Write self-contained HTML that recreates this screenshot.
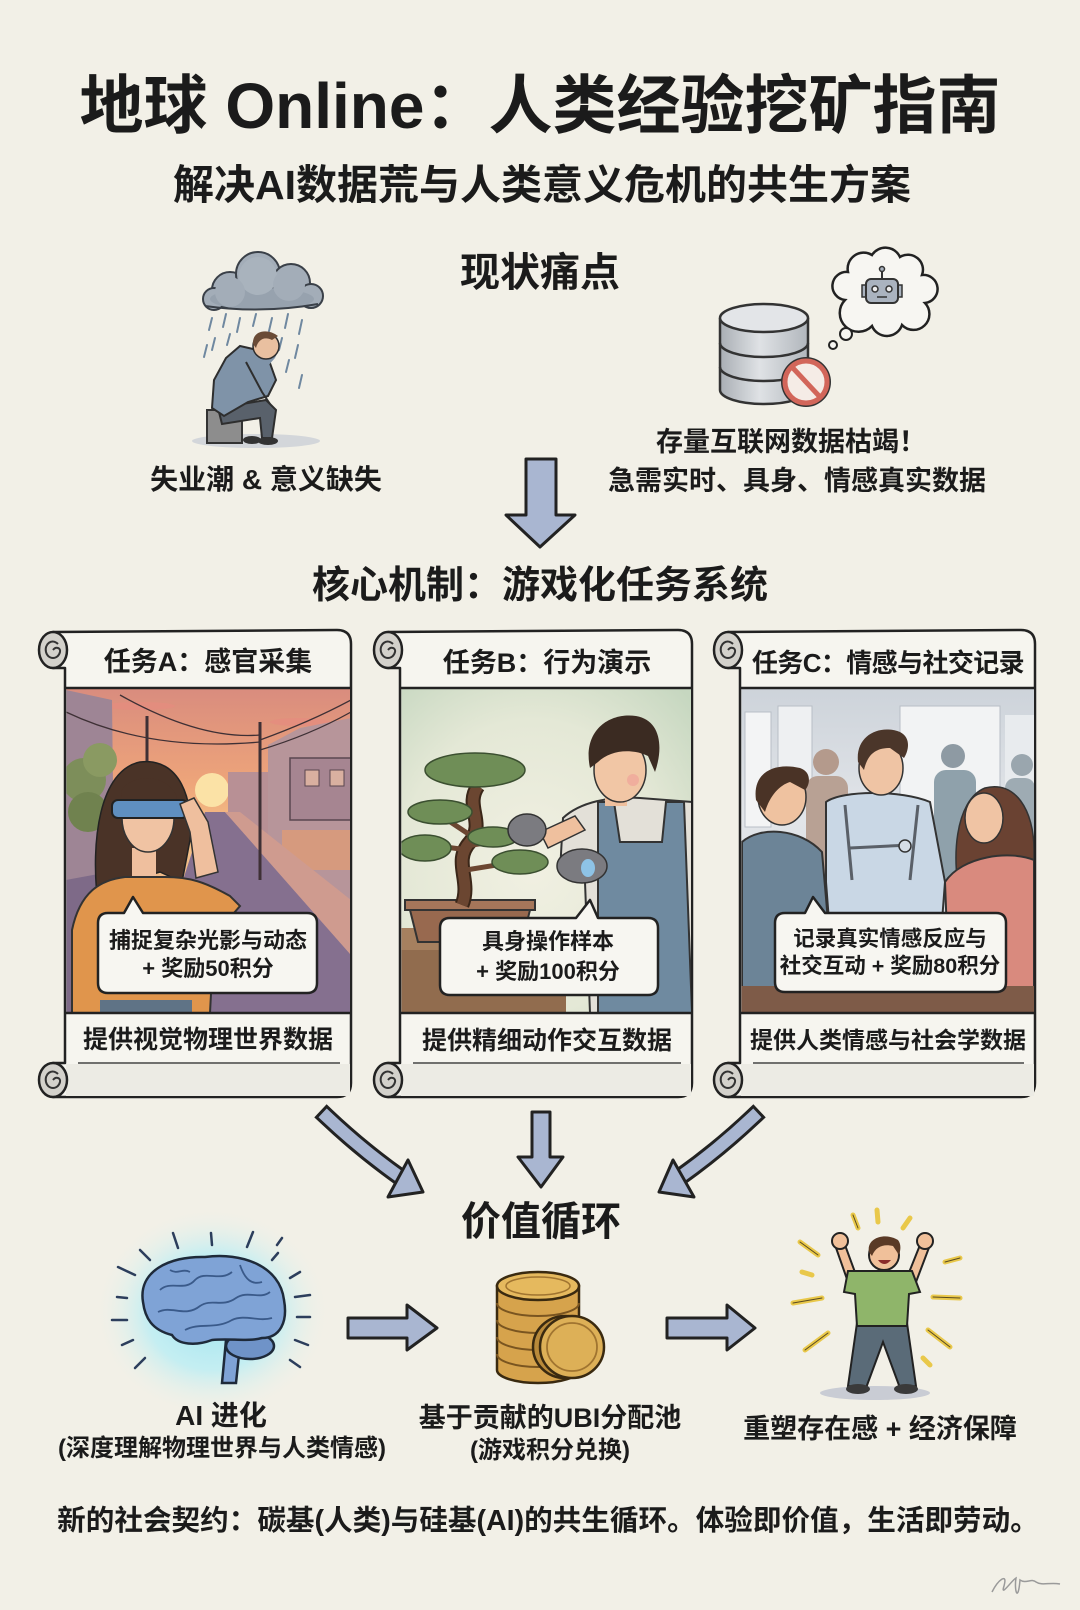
<!DOCTYPE html>
<html><head><meta charset="utf-8">
<style>
html,body{margin:0;padding:0;}
body{width:1080px;height:1610px;overflow:hidden;background:#f2f0e7;position:relative;}
.t{position:absolute;white-space:nowrap;font-weight:700;color:#1b1b1b;line-height:1;transform:translateX(-50%);font-family:"Liberation Sans","Noto Sans CJK SC",sans-serif;}
svg{position:absolute;left:0;top:0;}
</style></head><body>
<svg width="1080" height="1610" viewBox="0 0 1080 1610" xmlns="http://www.w3.org/2000/svg">
<defs>
<linearGradient id="skyA" x1="0" y1="0" x2="0" y2="1">
<stop offset="0" stop-color="#d98c7e"/><stop offset="0.3" stop-color="#eea57a"/><stop offset="0.45" stop-color="#f5c387"/><stop offset="1" stop-color="#e3a08c"/></linearGradient>
<radialGradient id="bgB" cx="0.45" cy="0.55" r="0.75"><stop offset="0" stop-color="#f1f0e2"/><stop offset="0.6" stop-color="#e4e8d6"/><stop offset="1" stop-color="#c6d7c0"/></radialGradient>
<linearGradient id="bgC" x1="0" y1="0" x2="0" y2="1"><stop offset="0" stop-color="#cdd3da"/><stop offset="0.4" stop-color="#e2e5e9"/><stop offset="1" stop-color="#d5d9de"/></linearGradient>
<radialGradient id="glow" cx="0.5" cy="0.5" r="0.5"><stop offset="0" stop-color="#9fe3f0"/><stop offset="0.55" stop-color="#bfeef3" stop-opacity="0.9"/><stop offset="1" stop-color="#f2f0e7" stop-opacity="0"/></radialGradient>
<linearGradient id="db" x1="0" y1="0" x2="1" y2="0"><stop offset="0" stop-color="#a9aeb4"/><stop offset="0.45" stop-color="#dfe2e5"/><stop offset="1" stop-color="#b1b6bc"/></linearGradient>
<clipPath id="cA"><rect x="66.5" y="688.5" width="283.5" height="324"/></clipPath>
<clipPath id="cB"><rect x="401.5" y="688.5" width="289.5" height="324"/></clipPath>
<clipPath id="cC"><rect x="741.5" y="688.5" width="292.5" height="324"/></clipPath>
</defs>

<!-- ===== Sad man with cloud ===== -->
<ellipse cx="256" cy="441" rx="64" ry="7" fill="#d3d6da"/>
<g stroke="#6f88a0" stroke-width="2" stroke-linecap="round">
<line x1="212" y1="318" x2="209" y2="330"/><line x1="226" y1="314" x2="223" y2="327"/><line x1="240" y1="318" x2="237" y2="332"/>
<line x1="256" y1="314" x2="253" y2="326"/><line x1="272" y1="318" x2="269" y2="331"/><line x1="288" y1="314" x2="285" y2="328"/>
<line x1="302" y1="320" x2="299" y2="334"/><line x1="207" y1="345" x2="204" y2="357"/><line x1="298" y1="345" x2="295" y2="358"/>
<line x1="215" y1="338" x2="212" y2="350"/><line x1="289" y1="360" x2="286" y2="372"/><line x1="302" y1="375" x2="299" y2="388"/>
<line x1="230" y1="334" x2="227" y2="345"/><line x1="282" y1="338" x2="279" y2="350"/>
</g>
<g fill="#a3adb8" stroke="#3a4048" stroke-width="2">
<circle cx="230" cy="290" r="18"/><circle cx="258" cy="274" r="22"/><circle cx="291" cy="283" r="19"/><circle cx="311" cy="296" r="12"/><circle cx="214" cy="299" r="11"/>
</g>
<ellipse cx="262" cy="299" rx="52" ry="11" fill="#97a2ae"/>
<circle cx="258" cy="276" r="19" fill="#a9b3bd"/><circle cx="230" cy="292" r="15" fill="#a3adb8"/><circle cx="289" cy="285" r="16" fill="#a3adb8"/>
<path d="M205,306 Q262,314 318,304" stroke="#3a4048" stroke-width="2" fill="none"/>
<rect x="207" y="410" width="35" height="33" fill="#8d8d8d" stroke="#333" stroke-width="2"/>
<path d="M218,408 L266,400 L276,410 L272,438 L262,438 L260,418 L222,424 Z" fill="#59616b" stroke="#2e2e2e" stroke-width="2"/>
<ellipse cx="268" cy="441" rx="10" ry="4" fill="#333"/><ellipse cx="252" cy="440" rx="9" ry="4" fill="#333"/>
<path d="M240,346 L266,352 L276,380 L268,396 L248,402 L224,416 L212,408 L214,380 L226,358 Z" fill="#7f93a8" stroke="#2e2e2e" stroke-width="2"/>
<path d="M246,362 L262,392 L270,404" stroke="#2e2e2e" stroke-width="2" fill="none"/>
<path d="M258,372 L272,356 L276,348" stroke="#7f93a8" stroke-width="7" fill="none"/>
<circle cx="266" cy="346" r="13" fill="#e9c0a0" stroke="#2e2e2e" stroke-width="1.5"/>
<path d="M253,344 C252,330 268,328 278,336 L272,340 C264,336 258,340 256,348 Z" fill="#6a4b36"/>

<!-- ===== Database & robot ===== -->
<rect x="720" y="318" width="88" height="72" fill="url(#db)"/>
<path d="M720,318 L720,390 A44 14 0 0 0 808,390 L808,318" fill="url(#db)" stroke="#333" stroke-width="2.5"/>
<path d="M720,343 A44 14 0 0 0 808,343" fill="none" stroke="#333" stroke-width="2.5"/>
<path d="M720,367 A44 14 0 0 0 808,367" fill="none" stroke="#333" stroke-width="2.5"/>
<ellipse cx="764" cy="318" rx="44" ry="14" fill="#e3e5e8" stroke="#333" stroke-width="2.5"/>
<circle cx="806" cy="382" r="25" fill="#333"/>
<circle cx="806" cy="382" r="21" fill="#f5ece6" stroke="#d2665a" stroke-width="5"/>
<line x1="792" y1="367" x2="820" y2="397" stroke="#d2665a" stroke-width="5"/>
<path d="M845,300 A14 14 0 0 1 848,272 A16 16 0 0 1 872,255 A16 16 0 0 1 900,257 A15 15 0 0 1 922,275 A14 14 0 0 1 925,303 A15 15 0 0 1 902,325 A16 16 0 0 1 872,326 A15 15 0 0 1 845,300 Z" fill="#f7f6f2" stroke="#222" stroke-width="2.5"/>
<circle cx="846" cy="334" r="6" fill="#f7f6f2" stroke="#222" stroke-width="2"/>
<circle cx="833" cy="345" r="4" fill="#f7f6f2" stroke="#222" stroke-width="2"/>
<rect x="862" y="285" width="5" height="12" fill="#aab3bf" stroke="#333" stroke-width="1.5"/>
<rect x="897" y="285" width="5" height="12" fill="#aab3bf" stroke="#333" stroke-width="1.5"/>
<line x1="882" y1="279" x2="882" y2="271" stroke="#333" stroke-width="2"/><circle cx="882" cy="269" r="2.5" fill="#aab3bf" stroke="#333" stroke-width="1.5"/>
<rect x="866" y="279" width="32" height="24" rx="5" fill="#aab3bf" stroke="#333" stroke-width="2"/>
<circle cx="875" cy="289" r="3" fill="#eee" stroke="#333" stroke-width="1.5"/><circle cx="889" cy="289" r="3" fill="#eee" stroke="#333" stroke-width="1.5"/>
<line x1="877" y1="297" x2="887" y2="297" stroke="#333" stroke-width="1.5"/>

<polygon points="526,459 556,459 556,515 575,515 540,547 506,515 526,515" fill="#a9b6d1" stroke="#222" stroke-width="3" stroke-linejoin="round"/>

<!-- ===== Scrolls ===== -->
<g stroke="#222" stroke-width="2.5" stroke-linejoin="round">
<path d="M53,632 L337,630 Q351,630 351,644 L351,1083 Q351,1097 337,1097 L53,1097 L53,1063 L65,1063 L65,668 L53,668 Z" fill="#f6f5ef"/>
<path d="M388,632 L678,630 Q692,630 692,644 L692,1083 Q692,1097 678,1097 L388,1097 L388,1063 L400,1063 L400,668 L388,668 Z" fill="#f6f5ef"/>
<path d="M728,632 L1021,630 Q1035,630 1035,644 L1035,1083 Q1035,1097 1021,1097 L728,1097 L728,1063 L740,1063 L740,668 L728,668 Z" fill="#f6f5ef"/>
</g>
<g fill="#ecebe4">
<rect x="66" y="1064" width="284" height="32"/><rect x="401" y="1064" width="290" height="32"/><rect x="741" y="1064" width="293" height="32"/>
</g>
<g stroke="#444" stroke-width="1.6">
<line x1="78" y1="1063" x2="340" y2="1063"/><line x1="413" y1="1063" x2="681" y2="1063"/><line x1="753" y1="1063" x2="1024" y2="1063"/>
</g>
<g fill="#d3d1cb" stroke="#222" stroke-width="2.5">
<ellipse cx="53" cy="650" rx="14" ry="18"/><ellipse cx="388" cy="650" rx="14" ry="18"/><ellipse cx="728" cy="650" rx="14" ry="18"/>
<ellipse cx="53" cy="1080" rx="14" ry="17"/><ellipse cx="388" cy="1080" rx="14" ry="17"/><ellipse cx="728" cy="1080" rx="14" ry="17"/>
</g>
<g fill="none" stroke="#333" stroke-width="2">
<path d="M58,644 C52,638 44,644 46,652 C48,660 58,660 60,652 C61,648 56,646 53,650"/>
<path d="M393,644 C387,638 379,644 381,652 C383,660 393,660 395,652 C396,648 391,646 388,650"/>
<path d="M733,644 C727,638 719,644 721,652 C723,660 733,660 735,652 C736,648 731,646 728,650"/>
<path d="M58,1074 C52,1068 44,1074 46,1082 C48,1090 58,1090 60,1082 C61,1078 56,1076 53,1080"/>
<path d="M393,1074 C387,1068 379,1074 381,1082 C383,1090 393,1090 395,1082 C396,1078 391,1076 388,1080"/>
<path d="M733,1074 C727,1068 719,1074 721,1082 C723,1090 733,1090 735,1082 C736,1078 731,1076 728,1080"/>
</g>

<!-- Scene A -->
<g clip-path="url(#cA)">
<rect x="66" y="688" width="285" height="325" fill="url(#skyA)"/>
<ellipse cx="140" cy="706" rx="35" ry="4" fill="#e58b7f" opacity=".7"/><ellipse cx="300" cy="722" rx="30" ry="4" fill="#e58b7f" opacity=".7"/>
<circle cx="212" cy="790" r="17" fill="#fbe2a6"/>
<rect x="228" y="772" width="42" height="95" fill="#b89095"/>
<polygon points="268,745 300,728 351,718 351,1013 268,1013" fill="#b7959a"/>
<rect x="290" y="758" width="61" height="62" fill="#a68591" stroke="#5a4650" stroke-width="1.5"/>
<rect x="305" y="770" width="14" height="16" fill="#d9b0a0" stroke="#5a4650" stroke-width="1"/>
<rect x="330" y="770" width="14" height="16" fill="#d9b0a0" stroke="#5a4650" stroke-width="1"/>
<rect x="282" y="830" width="69" height="40" fill="#d69a7e"/>
<polygon points="66,690 112,700 114,870 66,885" fill="#9e8595"/>
<circle cx="84" cy="780" r="22" fill="#7d8e5a"/><circle cx="100" cy="760" r="17" fill="#8a9a62"/><circle cx="88" cy="812" r="20" fill="#70824f"/>
<polygon points="205,812 225,812 351,955 351,1013 140,1013" fill="#85708f"/>
<polygon points="225,812 240,812 351,900 351,955" fill="#cf9b8f"/>
<polygon points="66,880 120,870 120,1013 66,1013" fill="#7e6a88"/>
<line x1="147" y1="716" x2="147" y2="840" stroke="#3e3035" stroke-width="3"/>
<line x1="260" y1="722" x2="260" y2="880" stroke="#3e3035" stroke-width="3"/>
<path d="M66,712 Q150,752 260,742 M120,695 Q200,740 260,735 M260,740 Q310,722 351,700 M260,750 Q310,735 351,712" stroke="#3e3035" stroke-width="1.3" fill="none"/>
<path d="M98,905 C90,840 100,770 140,762 C180,757 194,800 190,840 L182,882 L160,872 L120,884 Z" fill="#4a3327" stroke="#222" stroke-width="1.5"/>
<rect x="132" y="848" width="24" height="32" fill="#efbf9e"/>
<ellipse cx="148" cy="818" rx="26" ry="34" fill="#f0c3a3" stroke="#333" stroke-width="1.5"/>
<path d="M122,790 C130,775 165,772 176,795 L178,805 L120,805 Z" fill="#4a3327"/>
<rect x="112" y="800" width="76" height="18" rx="6" fill="#5f8fc0" stroke="#222" stroke-width="2"/>
<path d="M196,878 L218,872 L208,822 L194,798 L180,804 L190,832 Z" fill="#efbf9e" stroke="#333" stroke-width="1.5"/>
<path d="M72,1013 L72,930 C80,892 100,880 125,877 L165,877 C190,877 205,882 230,896 L240,906 L214,936 L210,1013 Z" fill="#e0954c" stroke="#333" stroke-width="2"/>
<rect x="100" y="1000" width="92" height="14" fill="#5f7386"/>
</g>

<!-- Scene B -->
<g clip-path="url(#cB)">
<rect x="401" y="688" width="291" height="325" fill="url(#bgB)"/>
<rect x="401" y="928" width="165" height="85" fill="#a6805f"/>
<rect x="401" y="950" width="165" height="63" fill="#916c4e"/>
<path d="M405,900 L535,900 L535,910 L405,910 Z" fill="#a5765a" stroke="#333" stroke-width="2"/>
<path d="M410,910 L530,910 L522,942 L418,942 Z" fill="#98694f" stroke="#333" stroke-width="2"/>
<path d="M462,905 C472,880 452,862 470,842 C486,822 464,806 478,786" stroke="#3a2618" stroke-width="15" fill="none"/>
<path d="M462,905 C472,880 452,862 470,842 C486,822 464,806 478,786" stroke="#6b4631" stroke-width="11" fill="none"/>
<path d="M468,850 L430,845 M470,835 L440,815 M472,845 L505,840 M466,870 L515,862" stroke="#6b4631" stroke-width="5" fill="none"/>
<g fill="#6f8e57" stroke="#3b4f30" stroke-width="1.5">
<ellipse cx="475" cy="770" rx="50" ry="17"/><ellipse cx="440" cy="812" rx="32" ry="12"/><ellipse cx="493" cy="837" rx="25" ry="10"/><ellipse cx="425" cy="848" rx="26" ry="13"/><ellipse cx="520" cy="862" rx="28" ry="12"/>
</g>
<path d="M563,818 C580,802 610,796 640,798 L692,802 L692,1013 L590,1013 L585,882 L560,872 Z" fill="#e3e0d8" stroke="#333" stroke-width="2"/>
<path d="M598,802 L614,802 L620,842 L662,842 L666,802 L684,802 L692,1013 L598,1013 Z" fill="#6f8aa0" stroke="#333" stroke-width="2"/>
<path d="M540,832 L575,816 L585,830 L548,848 Z" fill="#efc09e" stroke="#333" stroke-width="1.5"/>
<rect x="605" y="788" width="22" height="18" fill="#efc09e"/>
<ellipse cx="620" cy="770" rx="26" ry="32" fill="#f1c6a5" stroke="#333" stroke-width="1.5"/>
<circle cx="633" cy="780" r="6" fill="#f0a49a" opacity=".7"/>
<path d="M590,768 C582,730 610,712 636,716 C660,720 664,746 655,772 L648,756 C632,748 610,750 598,762 Z" fill="#3b2b22"/>
<ellipse cx="527" cy="830" rx="19" ry="16" fill="#7b7b80" stroke="#333" stroke-width="1.5"/>
<ellipse cx="582" cy="866" rx="25" ry="17" fill="#7b7b80" stroke="#333" stroke-width="1.5"/>
<ellipse cx="588" cy="868" rx="7" ry="9" fill="#8ec3e6"/>
</g>

<!-- Scene C -->
<g clip-path="url(#cC)">
<rect x="741" y="688" width="294" height="325" fill="url(#bgC)"/>
<rect x="745" y="712" width="26" height="115" fill="#f3f4f5" stroke="#b8bec6" stroke-width="1"/>
<rect x="778" y="706" width="34" height="100" fill="#eef0f2" stroke="#b8bec6" stroke-width="1"/>
<rect x="900" y="706" width="100" height="110" fill="#f2f3f4" stroke="#b8bec6" stroke-width="1"/>
<rect x="1005" y="715" width="30" height="100" fill="#e8ebee"/>
<circle cx="826" cy="762" r="13" fill="#b49a8c"/><rect x="806" y="776" width="42" height="110" rx="12" fill="#b8a194"/>
<circle cx="953" cy="756" r="12" fill="#8e9aa3"/><rect x="934" y="770" width="42" height="130" rx="12" fill="#8fa1ab"/>
<circle cx="1022" cy="765" r="11" fill="#9aa6ae"/><rect x="1005" y="778" width="30" height="100" rx="10" fill="#9eabb3"/>
<path d="M742,842 C760,826 800,828 822,852 L836,1013 L742,1013 Z" fill="#6c8497" stroke="#333" stroke-width="2"/>
<ellipse cx="782" cy="797" rx="24" ry="28" fill="#efc2a0" stroke="#333" stroke-width="1.5"/>
<path d="M756,800 C752,772 775,762 800,768 C812,772 810,785 805,790 L790,782 C780,785 770,795 765,812 Z" fill="#4a3326"/>
<path d="M826,802 C842,790 902,790 930,802 L945,882 L935,1013 L836,1013 L826,882 Z" fill="#c9d7e5" stroke="#333" stroke-width="2"/>
<path d="M845,805 L852,880 M918,805 L910,880 M850,848 L910,845" stroke="#5a6068" stroke-width="3" fill="none"/>
<circle cx="905" cy="846" r="6" fill="#d5dde6" stroke="#333" stroke-width="1.5"/>
<ellipse cx="881" cy="768" rx="22" ry="27" fill="#efc4a4" stroke="#333" stroke-width="1.5"/>
<path d="M858,762 C855,735 880,724 900,732 C912,738 908,752 904,758 L890,748 C878,748 868,752 864,770 Z" fill="#4b362a"/>
<path d="M962,905 C950,860 955,800 985,788 C1015,780 1034,810 1034,850 L1034,905 Z" fill="#6a4232" stroke="#333" stroke-width="1.5"/>
<ellipse cx="984" cy="818" rx="19" ry="25" fill="#f0c4a4" stroke="#333" stroke-width="1.5"/>
<path d="M945,882 C962,856 1010,850 1034,860 L1034,1013 L950,1013 Z" fill="#d98a7e" stroke="#333" stroke-width="2"/>
<rect x="741" y="986" width="294" height="27" fill="#7e5b48"/>
</g>

<g stroke="#222" stroke-width="2.5">
<line x1="65" y1="688" x2="351" y2="688"/><line x1="65" y1="1013" x2="351" y2="1013"/>
<line x1="400" y1="688" x2="692" y2="688"/><line x1="400" y1="1013" x2="692" y2="1013"/>
<line x1="740" y1="688" x2="1035" y2="688"/><line x1="740" y1="1013" x2="1035" y2="1013"/>
</g>

<g fill="#f7f6f1" stroke="#222" stroke-width="2.5" stroke-linejoin="round">
<path d="M108,913 L124,913 L133,897 L143,913 L307,913 Q317,913 317,923 L317,983 Q317,993 307,993 L108,993 Q98,993 98,983 L98,923 Q98,913 108,913 Z"/>
<path d="M450,918 L576,918 L590,900 L598,918 L648,918 Q658,918 658,928 L658,985 Q658,995 648,995 L450,995 Q440,995 440,985 L440,928 Q440,918 450,918 Z"/>
<path d="M785,913 L805,913 L813,897 L825,913 L996,913 Q1006,913 1006,923 L1006,982 Q1006,992 996,992 L785,992 Q775,992 775,982 L775,923 Q775,913 785,913 Z"/>
</g>

<!-- bottom arrows -->
<path d="M327,1117 Q362,1150 400,1177" fill="none" stroke="#222" stroke-width="18" stroke-linecap="square"/>
<path d="M327,1117 Q362,1150 400,1177" fill="none" stroke="#a9b6d1" stroke-width="12" stroke-linecap="square"/>
<polygon points="388,1197 408,1160 423,1192" fill="#a9b6d1" stroke="#222" stroke-width="3" stroke-linejoin="round"/>
<path d="M753,1117 Q718,1150 680,1177" fill="none" stroke="#222" stroke-width="18" stroke-linecap="square"/>
<path d="M753,1117 Q718,1150 680,1177" fill="none" stroke="#a9b6d1" stroke-width="12" stroke-linecap="square"/>
<polygon points="694,1197 673,1160 659,1192" fill="#a9b6d1" stroke="#222" stroke-width="3" stroke-linejoin="round"/>
<polygon points="532,1112 550,1112 550,1157 563,1157 541,1187 518,1157 532,1157" fill="#a9b6d1" stroke="#222" stroke-width="3" stroke-linejoin="round"/>
<polygon points="348,1318 407,1318 407,1305 437,1328 407,1350 407,1338 348,1338" fill="#a9b6d1" stroke="#222" stroke-width="3" stroke-linejoin="round"/>
<polygon points="667,1318 727,1318 727,1305 755,1328 727,1350 727,1338 667,1338" fill="#a9b6d1" stroke="#222" stroke-width="3" stroke-linejoin="round"/>

<!-- brain -->
<ellipse cx="212" cy="1312" rx="118" ry="105" fill="url(#glow)"/>
<g stroke="#2c3e5c" stroke-width="2.5" stroke-linecap="round">
<line x1="173" y1="1233" x2="178" y2="1248"/><line x1="211" y1="1233" x2="212" y2="1245"/><line x1="253" y1="1232" x2="247" y2="1247"/>
<line x1="282" y1="1238" x2="277" y2="1245"/><line x1="278" y1="1253" x2="272" y2="1260"/><line x1="140" y1="1250" x2="150" y2="1260"/>
<line x1="118" y1="1267" x2="135" y2="1275"/><line x1="117" y1="1297" x2="127" y2="1298"/><line x1="112" y1="1320" x2="127" y2="1320"/>
<line x1="122" y1="1345" x2="133" y2="1340"/><line x1="135" y1="1368" x2="145" y2="1358"/><line x1="290" y1="1278" x2="300" y2="1272"/>
<line x1="295" y1="1297" x2="310" y2="1295"/><line x1="297" y1="1317" x2="310" y2="1317"/><line x1="295" y1="1340" x2="308" y2="1345"/>
<line x1="290" y1="1360" x2="300" y2="1367"/>
</g>
<path d="M226,1340 L222,1383 L236,1383 L240,1345 Z" fill="#7fa3d6" stroke="#1e2a3a" stroke-width="2.5"/>
<ellipse cx="250" cy="1346" rx="24" ry="13" fill="#6f93c8" stroke="#1e2a3a" stroke-width="2.5"/>
<path d="M143,1302 C138,1272 168,1256 205,1257 C242,1252 280,1266 284,1300 C288,1322 280,1338 262,1338 C248,1342 230,1338 212,1340 C196,1346 178,1345 172,1335 C152,1330 145,1318 143,1302 Z" fill="#7fa3d6" stroke="#1e2a3a" stroke-width="2.5"/>
<g stroke="#3a5a8a" stroke-width="1.8" fill="none">
<path d="M160,1290 C170,1280 185,1292 195,1280 C205,1270 220,1282 232,1272"/>
<path d="M158,1312 C172,1305 185,1318 200,1306 C212,1298 222,1308 236,1298 C248,1290 260,1300 270,1292"/>
<path d="M185,1330 C200,1322 215,1330 232,1320 C245,1314 258,1322 272,1318"/>
<path d="M240,1265 C245,1280 252,1285 262,1282"/>
<path d="M170,1270 C178,1275 182,1268 190,1272"/>
</g>

<!-- coins -->
<path d="M497,1286 L497,1370 A41 13 0 0 0 579,1370 L579,1286 Z" fill="#d6a34c" stroke="#3a2a10" stroke-width="2.5"/>
<g fill="none" stroke="#7a5520" stroke-width="2">
<path d="M497,1303 A41 13 0 0 0 579,1303"/><path d="M497,1320 A41 13 0 0 0 579,1320"/><path d="M497,1337 A41 13 0 0 0 579,1337"/><path d="M497,1354 A41 13 0 0 0 579,1354"/>
</g>
<ellipse cx="538" cy="1286" rx="41" ry="14" fill="#e5b95e" stroke="#3a2a10" stroke-width="2.5"/>
<ellipse cx="538" cy="1286" rx="32" ry="9" fill="none" stroke="#a07430" stroke-width="1.5"/>
<ellipse cx="565" cy="1347" rx="32" ry="31" fill="#b98a3a" stroke="#3a2a10" stroke-width="2.5"/>
<ellipse cx="572" cy="1347" rx="32" ry="31" fill="#ddb057" stroke="#3a2a10" stroke-width="2.5"/>
<ellipse cx="572" cy="1347" rx="25" ry="24" fill="none" stroke="#a07430" stroke-width="1.8"/>

<!-- happy man -->
<ellipse cx="875" cy="1393" rx="55" ry="7" fill="#c9ccd4"/>
<g stroke="#e9c84a" stroke-width="5" stroke-linecap="round">
<line x1="853" y1="1215" x2="858" y2="1228"/><line x1="877" y1="1210" x2="878" y2="1222"/><line x1="910" y1="1218" x2="903" y2="1228"/>
<line x1="800" y1="1242" x2="818" y2="1255"/><line x1="802" y1="1272" x2="812" y2="1275"/><line x1="793" y1="1303" x2="822" y2="1298"/>
<line x1="805" y1="1350" x2="828" y2="1333"/><line x1="945" y1="1262" x2="960" y2="1258"/><line x1="933" y1="1297" x2="960" y2="1298"/>
<line x1="928" y1="1330" x2="950" y2="1347"/><line x1="923" y1="1358" x2="930" y2="1365"/>
</g>
<g stroke="#5a4a20" stroke-width="1" stroke-linecap="round">
<line x1="853" y1="1215" x2="858" y2="1228"/><line x1="800" y1="1242" x2="818" y2="1255"/><line x1="793" y1="1303" x2="822" y2="1298"/>
<line x1="805" y1="1350" x2="828" y2="1333"/><line x1="945" y1="1262" x2="960" y2="1258"/><line x1="933" y1="1297" x2="960" y2="1298"/><line x1="928" y1="1330" x2="950" y2="1347"/>
</g>
<path d="M835,1245 L845,1245 L856,1275 L848,1282 Z" fill="#f0c09a" stroke="#222" stroke-width="2"/>
<path d="M930,1245 L920,1245 L908,1275 L916,1282 Z" fill="#f0c09a" stroke="#222" stroke-width="2"/>
<circle cx="840" cy="1241" r="8" fill="#f0c09a" stroke="#222" stroke-width="2"/>
<circle cx="925" cy="1241" r="8" fill="#f0c09a" stroke="#222" stroke-width="2"/>
<path d="M857,1323 L907,1323 L916,1386 L900,1388 L883,1342 L866,1388 L848,1386 Z" fill="#5a6b78" stroke="#222" stroke-width="2"/>
<ellipse cx="906" cy="1389" rx="12" ry="5" fill="#3a3a3a"/><ellipse cx="858" cy="1389" rx="12" ry="5" fill="#3a3a3a"/>
<path d="M848,1271 L912,1271 L920,1292 L909,1294 L907,1326 L857,1326 L855,1294 L844,1292 Z" fill="#8fb56a" stroke="#222" stroke-width="2"/>
<circle cx="884" cy="1255" r="15" fill="#f0c09a" stroke="#222" stroke-width="2"/>
<path d="M869,1252 C866,1238 885,1232 898,1240 C902,1245 900,1252 899,1255 L893,1246 C884,1244 876,1246 872,1256 Z" fill="#5a3a26"/>
<path d="M878,1260 Q884,1268 891,1260 Z" fill="#8a2a2a"/>

<path d="M992,1592 C998,1580 1008,1572 1004,1586 C1000,1598 1012,1580 1016,1578 C1014,1590 1018,1604 1020,1580 C1026,1584 1032,1578 1036,1582 C1042,1586 1050,1582 1060,1584" fill="none" stroke="#9a9a9a" stroke-width="1.5"/>
</svg>

<div class="t" style="left:540px;top:74px;font-size:64px;">地球 Online：人类经验挖矿指南</div>
<div class="t" style="left:542px;top:165px;font-size:41px;">解决AI数据荒与人类意义危机的共生方案</div>
<div class="t" style="left:540px;top:253px;font-size:40px;">现状痛点</div>
<div class="t" style="left:266px;top:466px;font-size:28px;">失业潮 &amp; 意义缺失</div>
<div class="t" style="left:791px;top:429px;font-size:27px;">存量互联网数据枯竭！</div>
<div class="t" style="left:797px;top:468px;font-size:27px;">急需实时、具身、情感真实数据</div>
<div class="t" style="left:540px;top:567px;font-size:38px;">核心机制：游戏化任务系统</div>

<div class="t" style="left:208px;top:649px;font-size:27px;">任务A：感官采集</div>
<div class="t" style="left:547px;top:650px;font-size:27px;">任务B：行为演示</div>
<div class="t" style="left:888px;top:650px;font-size:26px;letter-spacing:-0.6px;">任务C：情感与社交记录</div>

<div class="t" style="left:208px;top:930px;font-size:22px;">捕捉复杂光影与动态</div>
<div class="t" style="left:208px;top:958px;font-size:22px;">+ 奖励50积分</div>
<div class="t" style="left:548px;top:931px;font-size:22px;">具身操作样本</div>
<div class="t" style="left:548px;top:961px;font-size:22px;">+ 奖励100积分</div>
<div class="t" style="left:890px;top:929px;font-size:21.5px;">记录真实情感反应与</div>
<div class="t" style="left:890px;top:956px;font-size:21.5px;">社交互动 + 奖励80积分</div>

<div class="t" style="left:208px;top:1028px;font-size:25px;">提供视觉物理世界数据</div>
<div class="t" style="left:547px;top:1029px;font-size:25px;">提供精细动作交互数据</div>
<div class="t" style="left:888px;top:1029px;font-size:23px;">提供人类情感与社会学数据</div>

<div class="t" style="left:541px;top:1202px;font-size:40px;">价值循环</div>
<div class="t" style="left:221px;top:1402px;font-size:28px;">AI 进化</div>
<div class="t" style="left:222px;top:1437px;font-size:24px;">(深度理解物理世界与人类情感)</div>
<div class="t" style="left:550px;top:1405px;font-size:27px;">基于贡献的UBI分配池</div>
<div class="t" style="left:550px;top:1439px;font-size:24px;">(游戏积分兑换)</div>
<div class="t" style="left:880px;top:1416px;font-size:27px;">重塑存在感 + 经济保障</div>
<div class="t" style="left:548px;top:1507px;font-size:28.6px;">新的社会契约：碳基(人类)与硅基(AI)的共生循环。体验即价值，生活即劳动。</div>
</body></html>
